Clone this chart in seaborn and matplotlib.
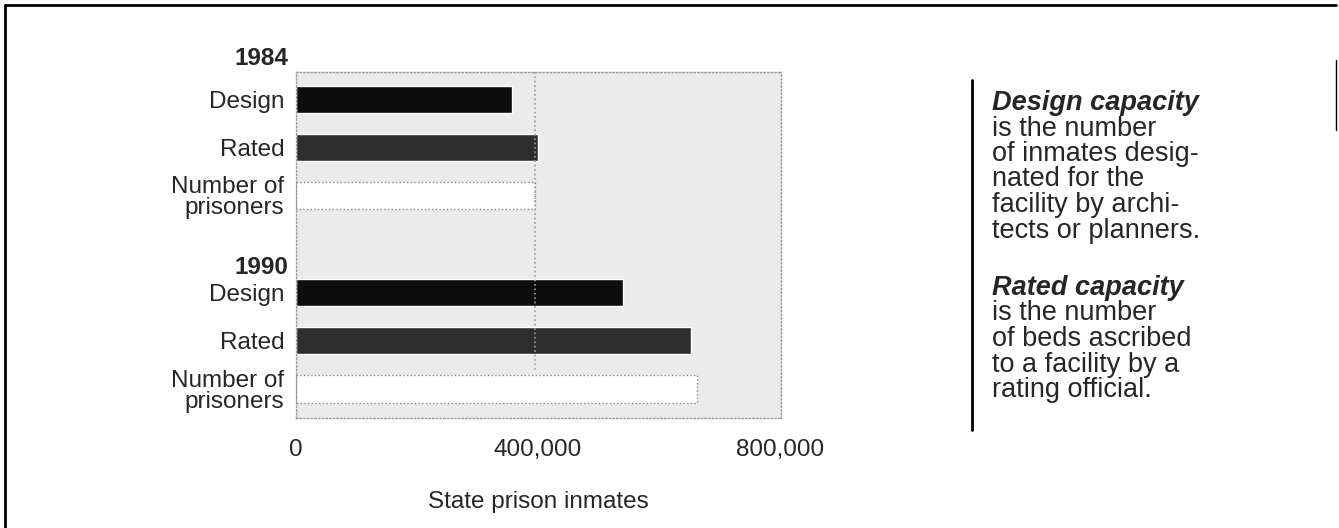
import matplotlib
matplotlib.use("Agg")
import matplotlib.pyplot as plt   # for plotting
import matplotlib.transforms as mtransforms
import seaborn as sns             # bars
import pandas as pd               # small table for seaborn

# values (state prison inmates)
years = ["1984", "1990"]
design = [357000, 540000]
rated = [400000, 652000]
prisoners = [395000, 662000]
row_names = ["Design", "Rated", "Number of\nprisoners"]
x_ticks = [0, 400000, 800000]
x_tick_labels = ["0", "400,000", "800,000"]

# one heading slot per year, then three bar rows
order = []
for y in years:
    order += [f"{y} head", f"{y} Design", f"{y} Rated", f"{y} Number"]

rows = []
for i, y in enumerate(years):
    rows.append({"row": f"{y} Design", "kind": "Design", "value": design[i]})
    rows.append({"row": f"{y} Rated", "kind": "Rated", "value": rated[i]})
cap_df = pd.DataFrame(rows)
pris_df = pd.DataFrame({"row": [f"{y} Number" for y in years], "value": prisoners})

sns.set_style("white")
plt.rcParams["font.family"] = ["Liberation Sans", "DejaVu Sans"]

fig = plt.figure(figsize=(13.39, 5.28), dpi=100)
ax = fig.add_axes([295.5 / 1339, 1 - 418 / 528, 485 / 1339, 346 / 528])
ax.set_facecolor("#ebebeb")

# dark capacity bars
sns.barplot(data=cap_df, x="value", y="row", hue="kind", order=order,
            palette={"Design": "#0d0d0d", "Rated": "#2e2e2e"}, dodge=False,
            width=0.56, orient="h", legend=False, ax=ax)
# number of prisoners as white bars
sns.barplot(data=pris_df, x="value", y="row", order=order, color="white",
            edgecolor="#8a8a8a", linestyle=":", linewidth=1.0,
            width=0.56, orient="h", ax=ax)

# dotted guide at the 1984 prisoner count
ax.vlines(prisoners[0], 0.44, 6.6, color="#9a9a9a", linestyle=":", linewidth=1.2)

ax.set_ylim(7.6, 0.44)
ax.set_xlim(0, 800000)

for s in ax.spines.values():
    s.set_linestyle(":")
    s.set_color("#9a9a9a")
    s.set_linewidth(1.0)

# y tick labels
ypos = [order.index(f"{y} {k}") for y in years for k in ["Design", "Rated", "Number"]]
ax.set_yticks(ypos)
ax.set_yticklabels(row_names * 2, fontsize=17.5, linespacing=0.95)
ax.tick_params(axis="y", length=0, pad=8)

ax.set_xticks(x_ticks)
ax.set_xticklabels(x_tick_labels, fontsize=17.5)
ax.tick_params(axis="x", length=0, pad=15)
ax.set_xlabel("State prison inmates", fontsize=17.5, labelpad=22)
ax.set_ylabel("")

# bold year headings
trans = mtransforms.blended_transform_factory(ax.transAxes, ax.transData)
ax.text(-0.014, 0.16, "1984", transform=trans, ha="right", va="center",
        fontsize=17.5, fontweight="bold", clip_on=False)
ax.text(-0.014, 4.48, "1990", transform=trans, ha="right", va="center",
        fontsize=17.5, fontweight="bold", clip_on=False)

# notes on the right
def px(x, y):
    return x / 1339, 1 - y / 528

note1 = ["is the number", "of inmates desig-", "nated for the",
         "facility by archi-", "tects or planners."]
note2 = ["is the number", "of beds ascribed", "to a facility by a",
         "rating official."]
fig.text(*px(992, 103), "Design capacity", fontsize=19.5, fontweight="bold",
         fontstyle="italic", va="center")
for i, line in enumerate(note1):
    fig.text(*px(992, 128.5 + i * 25.5), line, fontsize=19.5, va="center")
fig.text(*px(992, 288), "Rated capacity", fontsize=19.5, fontweight="bold",
         fontstyle="italic", va="center")
for i, line in enumerate(note2):
    fig.text(*px(992, 313.5 + i * 25.5), line, fontsize=19.5, va="center")

# separator and outer frame
fig.add_artist(plt.Line2D([972 / 1339] * 2, [1 - 80 / 528, 1 - 430 / 528],
                          color="black", linewidth=2))
fig.add_artist(plt.Line2D([5 / 1339, 1336 / 1339], [1 - 5 / 528] * 2,
                          color="black", linewidth=2))
fig.add_artist(plt.Line2D([5 / 1339] * 2, [1 - 5 / 528, 0],
                          color="black", linewidth=2))
fig.add_artist(plt.Line2D([1336 / 1339] * 2, [1 - 60 / 528, 1 - 130 / 528],
                          color="black", linewidth=1))

fig.savefig("out.png", dpi=100)
plt.close()
